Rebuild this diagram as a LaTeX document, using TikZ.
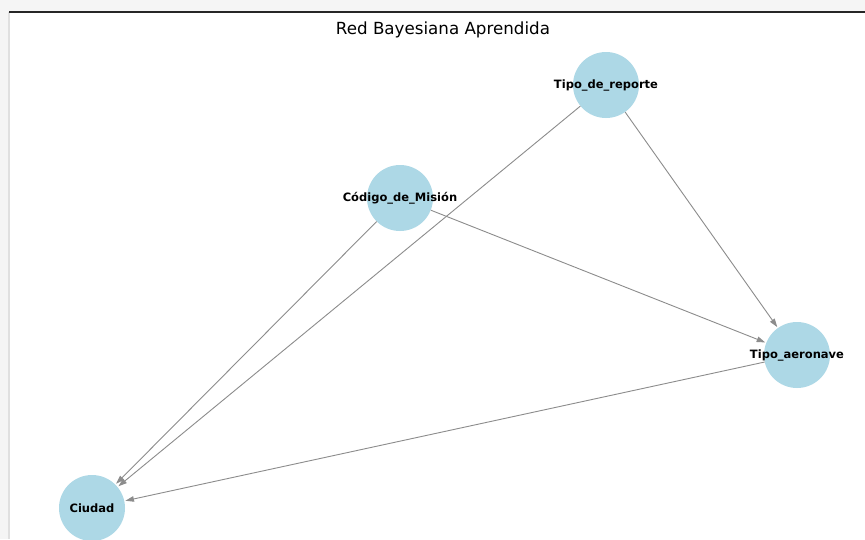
\documentclass[tikz,border=0pt]{standalone}
\usepackage{fontspec}
\setmainfont{DejaVu Sans}
\usetikzlibrary{arrows.meta}
\definecolor{nodeblue}{HTML}{ADD8E6}
\definecolor{edgegray}{HTML}{8C8C8C}
\tikzset{
  bnode/.style={circle, fill=nodeblue, minimum size=66pt, inner sep=0pt,
    label={[font=\bfseries\fontsize{11.5}{13}\selectfont]center:#1}},
  bedge/.style={draw=edgegray, line width=0.9pt, -{Triangle[length=8.5pt,width=5.5pt]}, shorten >=1pt}
}
\begin{document}
\begin{tikzpicture}[x=1pt,y=-1pt]
\useasboundingbox (0,0) rectangle (865,539);
\fill[white] (0,0) rectangle (865,539);
\fill[black!4] (0,0) rectangle (865,10.5);
\fill[black!4] (0,0) rectangle (8,539);
\draw[black!12, line width=1.5pt] (9,12) -- (9,539);
\draw[black!85, line width=1.6pt] (8.5,11.8) -- (865,11.8);
\node[font=\fontsize{16.7}{19}\selectfont] (title) at (443,29.5) {Red Bayesiana Aprendida};
\node[bnode={Tipo\_de\_reporte}] (rep) at (606,85) {};
\node[bnode={Código\_de\_Misión}] (mis) at (400,198) {};
\node[bnode={Tipo\_aeronave}] (aer) at (797,355) {};
\node[bnode={Ciudad}] (ciu) at (92,508) {};
\draw[bedge] (rep) -- (aer);
\draw[bedge] (rep) -- (ciu);
\draw[bedge] (mis) -- (aer);
\draw[bedge] (mis) -- (ciu);
\draw[bedge] (aer) -- (ciu);
\end{tikzpicture}
\end{document}
